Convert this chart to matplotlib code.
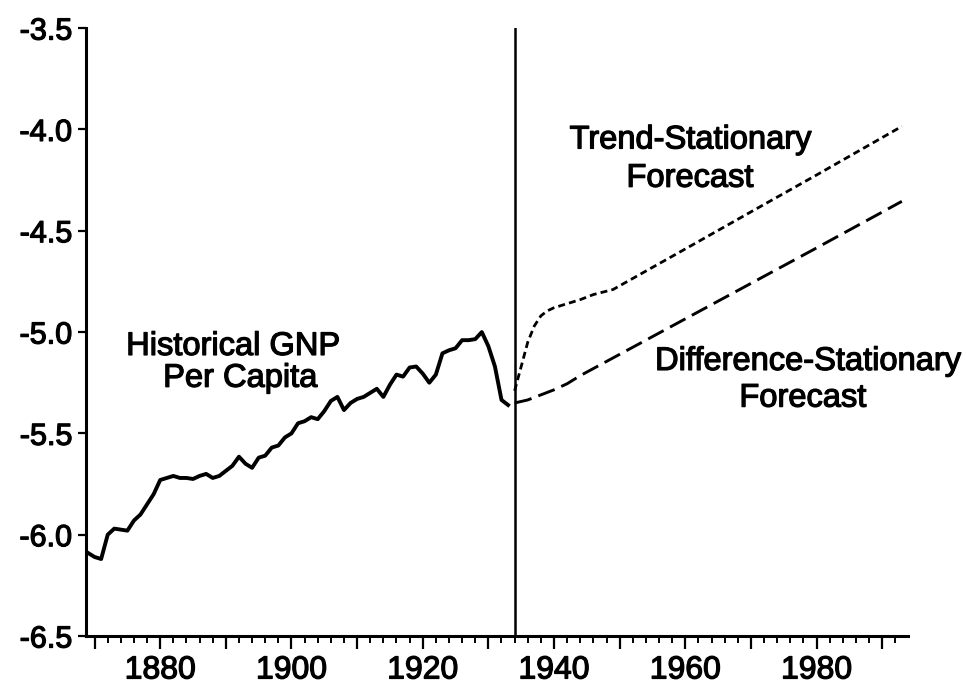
import numpy as np
import matplotlib
matplotlib.use("Agg")
import matplotlib.pyplot as plt
import matplotlib.patheffects as pe
from matplotlib.ticker import FixedLocator, FuncFormatter

plt.rcParams['font.family'] = ['Liberation Sans', 'DejaVu Sans']

# historical log GNP per capita, 1869-1933
hist_years = np.arange(1869, 1934)
hist_gnp = [-6.09, -6.11, -6.12, -6.00, -5.97, -5.975, -5.98, -5.93, -5.90, -5.85,
            -5.80, -5.73, -5.72, -5.71, -5.72, -5.72, -5.725, -5.71, -5.70, -5.72,
            -5.71, -5.685, -5.66, -5.615, -5.65, -5.67, -5.62, -5.61, -5.57, -5.56,
            -5.52, -5.50, -5.45, -5.44, -5.42, -5.43, -5.39, -5.34, -5.32, -5.385,
            -5.35, -5.33, -5.32, -5.30, -5.28, -5.32, -5.26, -5.21, -5.22, -5.175,
            -5.17, -5.205, -5.25, -5.21, -5.105, -5.09, -5.08, -5.04, -5.04, -5.035,
            -5.00, -5.07, -5.17, -5.335, -5.36]

# forecasts from 1934 on
ts_years = [1934, 1935, 1936, 1937, 1938, 1939, 1940, 1942, 1944, 1946, 1949,
            1960, 1970, 1980, 1993]
ts_gnp = [-5.29, -5.17, -5.05, -4.97, -4.92, -4.895, -4.88, -4.86, -4.84, -4.815,
          -4.79, -4.59, -4.407, -4.225, -3.985]

ds_years = [1934, 1936, 1938, 1940, 1942, 1944, 1950, 1960, 1970, 1980, 1993]
ds_gnp = [-5.35, -5.335, -5.31, -5.285, -5.255, -5.215, -5.11, -4.935, -4.76,
          -4.585, -4.355]

break_year = 1934

# thicken text a bit, the scan is heavy
heavy = [pe.withStroke(linewidth=0.9, foreground='black')]

fig = plt.figure(figsize=(9.69, 6.85), dpi=100)
ax = fig.add_axes([0.0888, 0.0715, 0.848, 0.8875])

ax.plot(hist_years, hist_gnp, color='black', lw=2.8, solid_joinstyle='round')
ax.plot(ts_years, ts_gnp, color='black', lw=2.0, dashes=(2.5, 1.5))
ax.plot(ds_years, ds_gnp, color='black', lw=2.1, dashes=(6, 2.5))
ax.axvline(break_year, color='black', lw=1.8)

ax.set_xlim(1868.7, 1993.9)
ax.set_ylim(-6.5, -3.5)

for s in ['top', 'right']:
    ax.spines[s].set_visible(False)
for s in ['left', 'bottom']:
    ax.spines[s].set_linewidth(2.2)

ax.set_yticks([-3.5, -4.0, -4.5, -5.0, -5.5, -6.0, -6.5])
ax.set_yticklabels(['-3.5', '-4.0', '-4.5', '-5.0', '-5.5', '-6.0', '-6.5'])
ax.tick_params(axis='y', length=6, width=1.6, pad=4, labelsize=22)

ax.xaxis.set_major_locator(FixedLocator(np.arange(1870, 1991, 10)))
ax.xaxis.set_minor_locator(FixedLocator(np.arange(1870, 1994, 2)))
ax.xaxis.set_major_formatter(FuncFormatter(lambda v, p: '%d' % v if int(v) % 20 == 0 else ''))
ax.tick_params(axis='x', which='major', length=9, width=1.6, pad=5, labelsize=23)
ax.tick_params(axis='x', which='minor', length=5, width=1.4)

for lab in ax.get_xticklabels() + ax.get_yticklabels():
    lab.set_path_effects(heavy)

notes = [
    (1891.1, -5.113, 'Historical GNP'),
    (1892.2, -5.27, 'Per Capita'),
    (1960.8, -4.094, 'Trend-Stationary'),
    (1960.7, -4.283, 'Forecast'),
    (1978.7, -5.187, 'Difference-Stationary'),
    (1977.9, -5.368, 'Forecast'),
]
for x, y, s in notes:
    ax.text(x, y, s, ha='center', va='baseline', fontsize=23.5,
            clip_on=False, path_effects=heavy)

fig.savefig('out.png', dpi=100)
